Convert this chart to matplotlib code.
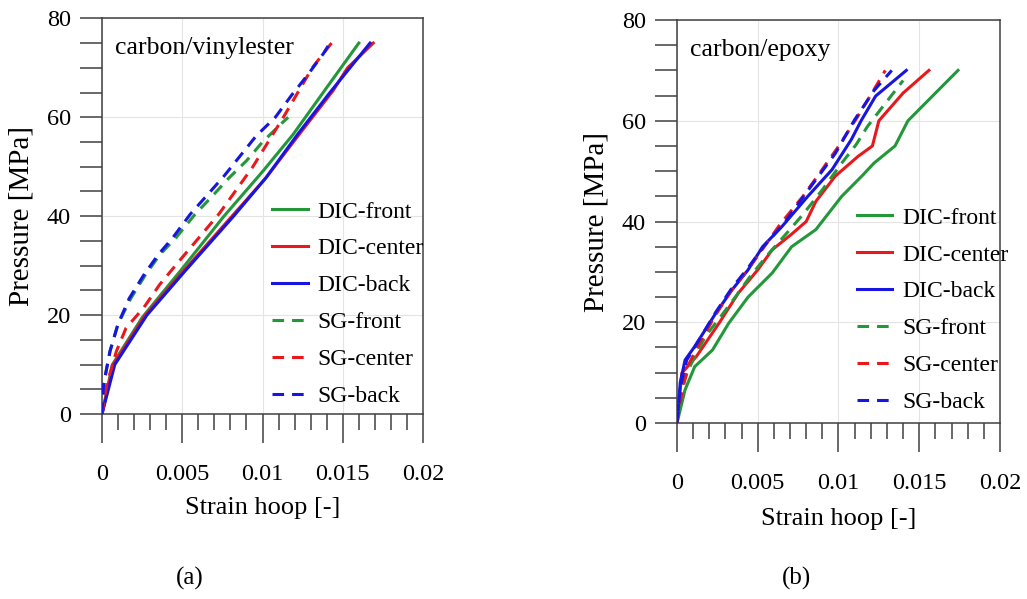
import numpy as np
import matplotlib
matplotlib.use("Agg")
import matplotlib.pyplot as plt
from matplotlib.ticker import MultipleLocator

plt.rcParams['font.family'] = ['Liberation Serif', 'DejaVu Serif']

# (a) carbon/vinylester
a_dic_front_x = [0, 0.00065, 0.0025, 0.0049, 0.0076, 0.0100, 0.0119, 0.0140, 0.0160]
a_dic_front_y = [0, 10, 19.5, 29, 40, 49, 56.5, 66, 75]
a_dic_center_x = [0, 0.0007, 0.0027, 0.0051, 0.0081, 0.0102, 0.0123, 0.0144, 0.0153, 0.0169]
a_dic_center_y = [0, 10, 20, 29, 40, 47.7, 56.6, 65.4, 70, 75]
a_dic_back_x = [0, 0.0008, 0.0028, 0.0052, 0.0082, 0.0102, 0.0122, 0.0142, 0.0167]
a_dic_back_y = [0, 10, 20, 29, 40, 47.7, 56.6, 65, 75]
a_sg_front_x = [0, 0.0001, 0.0005, 0.0010, 0.0018, 0.0027, 0.0036, 0.0046, 0.0058,
                0.0068, 0.0079, 0.0090, 0.0100, 0.0113, 0.0116]
a_sg_front_y = [0, 6, 12.7, 18.2, 23.4, 28.1, 32.2, 35.6, 40.4, 43.8, 47.7, 51.2, 55, 59.1, 60]
a_sg_center_x = [0, 0.0003, 0.0009, 0.0015, 0.0026, 0.0036, 0.0047, 0.0060, 0.0073,
                 0.0094, 0.0113, 0.0131, 0.0143]
a_sg_center_y = [0, 6, 12.7, 17.4, 21.5, 26.2, 30.5, 35.5, 40.5, 50, 60, 70, 75]
a_sg_back_x = [0, 0.0001, 0.0005, 0.0010, 0.0017, 0.0026, 0.0035, 0.0044, 0.0055,
               0.0076, 0.0096, 0.0108, 0.0118, 0.0128, 0.0138, 0.0142]
a_sg_back_y = [0, 6, 12.7, 18.2, 23.4, 28.1, 32.2, 35.6, 40.4, 48.1, 56.2, 60, 64.4, 68.5, 72.9, 75]

# (b) carbon/epoxy
b_dic_front_x = [0, 0.0005, 0.0011, 0.0022, 0.0032, 0.0044, 0.0059, 0.0071, 0.0086,
                 0.0102, 0.0115, 0.0122, 0.0135, 0.0143, 0.0174]
b_dic_front_y = [0, 6.6, 11.2, 14.5, 19.8, 25, 29.8, 35, 38.4, 45, 49.2, 51.6, 55, 60, 70]
b_dic_center_x = [0, 0.0003, 0.0012, 0.0026, 0.0038, 0.0050, 0.0059, 0.0071, 0.0080,
                  0.0086, 0.0098, 0.0112, 0.0121, 0.0125, 0.0140, 0.0156]
b_dic_center_y = [0, 9.9, 13.2, 19.8, 25.8, 30.4, 34.4, 37.5, 40, 44, 49, 52.9, 55, 60, 65.5, 70]
b_dic_back_x = [0, 0.0002, 0.0005, 0.0011, 0.0024, 0.0034, 0.0044, 0.0053, 0.0065,
                0.0081, 0.0096, 0.0108, 0.0114, 0.0123, 0.0142]
b_dic_back_y = [0, 8, 12.5, 15.2, 21.8, 26.4, 30.4, 35, 39, 45, 50.3, 56.3, 60, 64.9, 70]
b_sg_front_x = [0, 0.0002, 0.0009, 0.00175, 0.0027, 0.0037, 0.0046, 0.0057, 0.0068,
                0.0078, 0.0090, 0.0102, 0.0111, 0.0118, 0.0140]
b_sg_front_y = [0, 6.6, 11.9, 17.2, 21.1, 25.4, 29.4, 33.7, 37.7, 41.4, 46.3, 51.6, 55.3, 58.9, 68]
b_sg_center_x = [0, 0.0003, 0.0007, 0.0015, 0.0024, 0.0034, 0.0044, 0.0054, 0.0064,
                 0.0078, 0.0087, 0.0100, 0.0112, 0.0122, 0.0129]
b_sg_center_y = [0, 6, 11.5, 16.5, 21.5, 26.5, 30.5, 35, 39.5, 45, 49, 54.9, 60.9, 66.2, 70]
b_sg_back_x = [0, 0.0002, 0.0006, 0.0015, 0.0024, 0.0034, 0.0044, 0.0054, 0.0066,
               0.0083, 0.0098, 0.0110, 0.0122, 0.0133]
b_sg_back_y = [0, 7, 12.5, 17.2, 22, 26.8, 30.8, 35.2, 39.5, 47, 53.5, 60.2, 66, 70]

labels = ['DIC-front', 'DIC-center', 'DIC-back', 'SG-front', 'SG-center', 'SG-back']
colors = ['#23973a', '#e8191c', '#1616e0', '#23973a', '#e8191c', '#1616e0']

panels = [
    dict(rect=[0.0993, 0.3088, 0.3126, 0.6606], title='carbon/vinylester', tag='(a)',
         series=[(a_dic_front_x, a_dic_front_y), (a_dic_center_x, a_dic_center_y),
                 (a_dic_back_x, a_dic_back_y), (a_sg_front_x, a_sg_front_y),
                 (a_sg_center_x, a_sg_center_y), (a_sg_back_x, a_sg_back_y)],
         leg=(0.53, 0.278), tagx=0.185),
    dict(rect=[0.6592, 0.2938, 0.3145, 0.6728], title='carbon/epoxy', tag='(b)',
         series=[(b_dic_front_x, b_dic_front_y), (b_dic_center_x, b_dic_center_y),
                 (b_dic_back_x, b_dic_back_y), (b_sg_front_x, b_sg_front_y),
                 (b_sg_center_x, b_sg_center_y), (b_sg_back_x, b_sg_back_y)],
         leg=(0.557, 0.28), tagx=0.776),
]

fig = plt.figure(figsize=(10.27, 5.99), dpi=100)

for p in panels:
    ax = fig.add_axes(p['rect'])
    for i, (xs, ys) in enumerate(p['series']):
        ls = '-' if i < 3 else (0, (3.8, 2.6))
        ax.plot(xs, ys, color=colors[i], lw=2.2, ls=ls, label=labels[i], zorder=3)

    ax.set_xlim(0, 0.02)
    ax.set_ylim(0, 80)
    ax.xaxis.set_minor_locator(MultipleLocator(0.001))
    ax.yaxis.set_major_locator(MultipleLocator(20))
    ax.yaxis.set_minor_locator(MultipleLocator(5))
    ax.set_xticks([0, 0.005, 0.01, 0.015, 0.02])
    ax.set_xticklabels(['0', '0.005', '0.01', '0.015', '0.02'])
    ax.grid(True, which='major', color='#e4e4e4', lw=0.8, zorder=0)

    for s in ax.spines.values():
        s.set_color('#404040')
        s.set_linewidth(1.1)
    ax.tick_params(axis='y', which='both', direction='out', length=15.5, width=1.1,
                   color='#404040', pad=7, labelsize=17.5)
    ax.tick_params(axis='x', which='major', direction='out', length=21, width=1.1,
                   color='#404040', pad=15, labelsize=17.5)
    ax.tick_params(axis='x', which='minor', direction='out', length=11.3, width=1.1,
                   color='#404040')

    ax.set_xlabel('Strain hoop [-]', fontsize=19, va='center')
    ax.xaxis.set_label_coords(0.5, -0.237)
    ax.set_ylabel('Pressure [MPa]', fontsize=21, va='center')
    ax.yaxis.set_label_coords(-0.25, 0.5)

    ax.text(0.04, 0.925, p['title'], transform=ax.transAxes, fontsize=18.5,
            ha='left', va='center')

    ax.legend(loc='center left', bbox_to_anchor=p['leg'], frameon=False, fontsize=17,
              borderpad=0, borderaxespad=0, handlelength=1.5, handletextpad=0.42,
              labelspacing=0.65)

    fig.text(p['tagx'], 1 - 578 / 599, p['tag'], fontsize=18, ha='center', va='center')

fig.savefig('out.png', dpi=100)
